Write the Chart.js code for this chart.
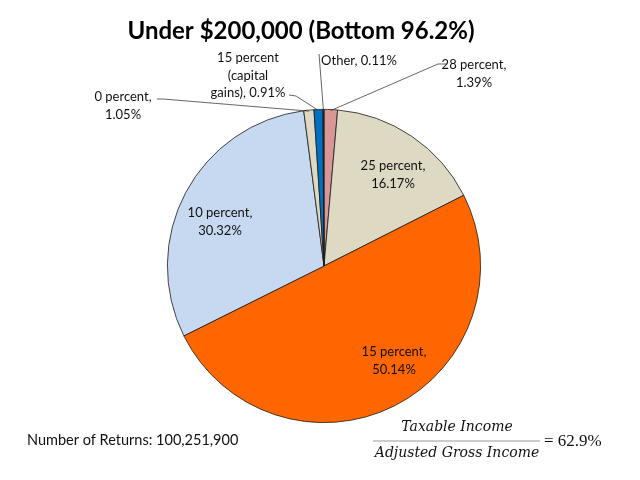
<!DOCTYPE html>
<html>
<head>
<meta charset="utf-8">
<script src="https://cdn.jsdelivr.net/npm/chart.js@4.4.1/dist/chart.umd.min.js"></script>
<style>
  html, body { margin: 0; padding: 0; background: #fff; }
  #wrap { width: 640px; height: 480px; }
</style>
</head>
<body>
<div id="wrap"><canvas id="myChart" width="640" height="480"></canvas></div>
<script>
// data, clockwise from 12 o'clock
const categorias = ['28 percent', '25 percent', '15 percent', '10 percent', '0 percent', '15 percent (capital gains)', 'Other'];
const porcentajes = [1.39, 16.17, 50.14, 30.32, 1.05, 0.91, 0.11];
const colores = ['#D99694', '#DDD9C3', '#FF6600', '#C6D9F1', '#DDD9C3', '#0070C0', '#17375E'];

const titulo = 'Under $200,000 (Bottom 96.2%)';
const nota = 'Number of Returns: 100,251,900';
const formulaArriba = 'Taxable Income';
const formulaAbajo = 'Adjusted Gross Income';
const formulaValor = '= 62.9%';

// where each label sits (lines of text, centre x, first line y), and the leader line start
const etiquetas = [
  { lines: ['28 percent,', '1.39%'], x: 474, y: 65, leader: [[446, 64], [438, 64]] },
  { lines: ['25 percent,', '16.17%'], x: 393, y: 166 },
  { lines: ['15 percent,', '50.14%'], x: 394, y: 352 },
  { lines: ['10 percent,', '30.32%'], x: 220, y: 213 },
  { lines: ['0 percent,', '1.05%'], x: 123, y: 97, leader: [[157, 99], [163, 99]] },
  { lines: ['15 percent', '(capital', 'gains), 0.91%'], x: 248, y: 58, leader: [[289, 95], [296, 96]] },
  { lines: ['Other, 0.11%'], x: 359, y: 61, leader: [[319, 54]] }
];

const fuente = 'Lato, "Open Sans", sans-serif';

const textosPlugin = {
  id: 'textos',
  afterDraw(chart) {
    const ctx = chart.ctx;
    const meta = chart.getDatasetMeta(0);
    ctx.save();

    // title
    ctx.fillStyle = '#000';
    ctx.textAlign = 'center';
    ctx.textBaseline = 'middle';
    ctx.font = 'bold 24px ' + fuente;
    ctx.fillText(titulo, 301, 31);

    // leader lines
    ctx.strokeStyle = '#404040';
    ctx.lineWidth = 0.8;
    etiquetas.forEach((e, i) => {
      if (!e.leader) return;
      const arc = meta.data[i];
      const p = arc.getProps(['x', 'y', 'startAngle', 'endAngle', 'outerRadius'], true);
      const mid = (p.startAngle + p.endAngle) / 2;
      const ex = p.x + Math.cos(mid) * (p.outerRadius - 1);
      const ey = p.y + Math.sin(mid) * (p.outerRadius - 1);
      ctx.beginPath();
      ctx.moveTo(e.leader[0][0], e.leader[0][1]);
      for (let k = 1; k < e.leader.length; k++) ctx.lineTo(e.leader[k][0], e.leader[k][1]);
      ctx.lineTo(ex, ey);
      ctx.stroke();
    });

    // slice labels
    ctx.font = '13px ' + fuente;
    ctx.fillStyle = '#111';
    etiquetas.forEach(e => {
      e.lines.forEach((t, k) => ctx.fillText(t, e.x, e.y + k * 17.5));
    });

    // footer
    ctx.textAlign = 'left';
    ctx.font = '14.5px ' + fuente;
    ctx.fillText(nota, 27, 440);

    // formula
    ctx.textAlign = 'center';
    ctx.font = 'italic 14px "DejaVu Serif", serif';
    ctx.fillText(formulaArriba, 457, 427);
    ctx.fillText(formulaAbajo, 457, 453);
    ctx.strokeStyle = '#bbb';
    ctx.lineWidth = 1.5;
    ctx.beginPath();
    ctx.moveTo(373, 441);
    ctx.lineTo(540, 441);
    ctx.stroke();
    ctx.textAlign = 'left';
    ctx.font = '17px "Liberation Serif", serif';
    ctx.fillText(formulaValor, 544, 442);

    ctx.restore();
  }
};

window.addEventListener('DOMContentLoaded', () => {
  const info = {
    labels: categorias,
    datasets: [{
      data: porcentajes,
      backgroundColor: colores,
      borderColor: '#1a1a1a',
      borderWidth: 0.8
    }]
  };

  const config = {
    type: 'pie',
    data: info,
    options: {
      responsive: false,
      animation: false,
      layout: { padding: { left: 167, right: 159, top: 109, bottom: 57 } },
      plugins: {
        legend: { display: false },
        tooltip: { enabled: false },
        title: { display: false }
      }
    },
    plugins: [textosPlugin]
  };

  new Chart(document.getElementById('myChart'), config);
});
</script>
</body>
</html>
